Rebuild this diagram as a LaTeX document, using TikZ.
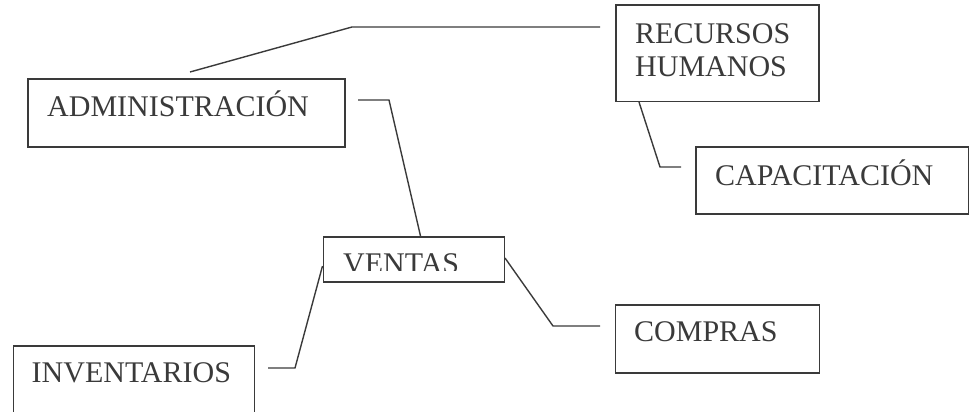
\documentclass[tikz,border=0pt]{standalone}
\usepackage{fontspec}
\setmainfont{Liberation Serif}
\definecolor{ink}{HTML}{3A3A3A}
\begin{document}
\begin{tikzpicture}[x=1pt,y=-1pt,
  box/.style={draw=ink, line width=1.5pt, anchor=north west, inner sep=0pt},
  txt/.style={text=ink, anchor=base west, inner sep=0pt, font=\fontsize{30}{33.5}\selectfont},
  link/.style={draw=ink, line width=1.4pt}]
\useasboundingbox (0,0) rectangle (969,412);

% boxes
\node[box, minimum width=317pt, minimum height=68pt] (adm) at (27,78) {};
\node[txt] (admt) at (47,116) {ADMINISTRACIÓN};

\node[box, minimum width=203pt, minimum height=96pt] (rh) at (615,4.5) {};
\node[txt] (rht1) at (635,43.5) {RECURSOS};
\node[txt] (rht2) at (635,77) {HUMANOS};

\node[box, minimum width=273pt, minimum height=67pt] (cap) at (695,146) {};
\node[txt] (capt) at (715,185) {CAPACITACIÓN};

\node[box, minimum width=181pt, minimum height=45pt] (ven) at (322.5,236) {};
\begin{scope}
  \clip (322,236) rectangle (504,270.8);
  \node[txt] (vent) at (343,273) {VENTAS};
\end{scope}

\node[box, minimum width=204pt, minimum height=68pt] (com) at (614.5,304) {};
\node[txt] (comt) at (634,341.5) {COMPRAS};

\node[box, minimum width=241pt, minimum height=100pt] (inv) at (12.5,345) {};
\node[txt] (invt) at (31.5,382.5) {INVENTARIOS};

% connectors
\coordinate (a1) at (190,72);
\coordinate (a2) at (352,27);
\coordinate (a3) at (600,27);
\draw[link] (a1) -- (a2) -- (a3);

\coordinate (b1) at (358,100);
\coordinate (b2) at (389,100);
\draw[link] (b1) -- (b2) -- ([xshift=98pt]ven.north west);

\coordinate (c2) at (660,167);
\coordinate (c3) at (681,167);
\draw[link] ([xshift=24pt]rh.south west) -- (c2) -- (c3);

\coordinate (d2) at (553,326);
\coordinate (d3) at (600,326);
\draw[link] ([yshift=-22pt]ven.north east) -- (d2) -- (d3);

\coordinate (e2) at (295,368);
\coordinate (e3) at (268,368);
\draw[link] ([yshift=-30pt]ven.north west) -- (e2) -- (e3);
\end{tikzpicture}
\end{document}
